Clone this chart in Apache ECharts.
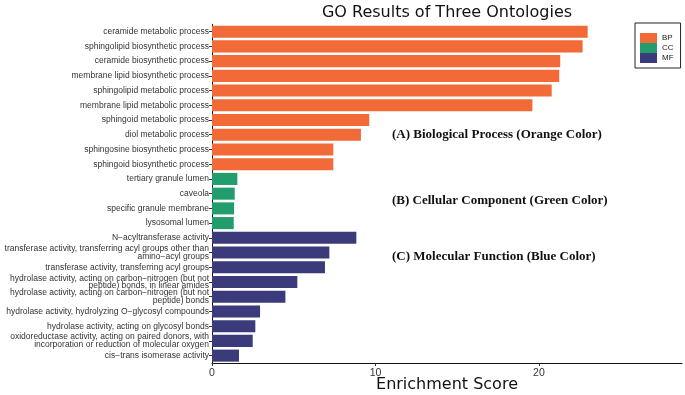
<!DOCTYPE html>
<html>
<head>
<meta charset="utf-8">
<style>
  html, body { margin: 0; padding: 0; background: #fff; }
  #chart { width: 685px; height: 395px; }
</style>
<script src="https://cdn.jsdelivr.net/npm/echarts@6/dist/echarts.min.js"></script>
</head>
<body>
<div id="chart"></div>
<script>
// GO terms, top to bottom as drawn
const terms = [
  'ceramide metabolic process',
  'sphingolipid biosynthetic process',
  'ceramide biosynthetic process',
  'membrane lipid biosynthetic process',
  'sphingolipid metabolic process',
  'membrane lipid metabolic process',
  'sphingoid metabolic process',
  'diol metabolic process',
  'sphingosine biosynthetic process',
  'sphingoid biosynthetic process',
  'tertiary granule lumen',
  'caveola',
  'specific granule membrane',
  'lysosomal lumen',
  'N\u2212acyltransferase activity',
  'transferase activity, transferring acyl groups other than\namino\u2212acyl groups',
  'transferase activity, transferring acyl groups',
  'hydrolase activity, acting on carbon\u2212nitrogen (but not\npeptide) bonds, in linear amides',
  'hydrolase activity, acting on carbon\u2212nitrogen (but not\npeptide) bonds',
  'hydrolase activity, hydrolyzing O\u2212glycosyl compounds',
  'hydrolase activity, acting on glycosyl bonds',
  'oxidoreductase activity, acting on paired donors, with\nincorporation or reduction of molecular oxygen',
  'cis\u2212trans isomerase activity'
];

const scores = [
  22.98, 22.67, 21.3, 21.24, 20.78, 19.6, 9.62, 9.11, 7.42, 7.42,
  1.55, 1.39, 1.35, 1.33,
  8.83, 7.18, 6.91, 5.22, 4.49, 2.94, 2.65, 2.49, 1.65
];

const ontology = [
  'BP', 'BP', 'BP', 'BP', 'BP', 'BP', 'BP', 'BP', 'BP', 'BP',
  'CC', 'CC', 'CC', 'CC',
  'MF', 'MF', 'MF', 'MF', 'MF', 'MF', 'MF', 'MF', 'MF'
];

const groups = ['BP', 'CC', 'MF'];
const groupColors = { BP: '#F26A38', CC: '#239C6E', MF: '#3B3A7A' };

const notes = [
  '(A) Biological Process (Orange Color)',
  '(B) Cellular Component (Green Color)',
  '(C) Molecular Function (Blue Color)'
];

const chart = echarts.init(document.getElementById('chart'));

// one series per ontology so the legend gets its three keys
const series = groups.map((g) => ({
  name: g,
  type: 'bar',
  stack: 'go',
  barCategoryGap: '18%',
  itemStyle: { color: groupColors[g] },
  data: scores.map((v, i) => (ontology[i] === g ? v : '-'))
}));

const noteY = [135, 201, 257];

const option = {
  animation: false,
  backgroundColor: '#fff',
  title: {
    text: 'GO Results of Three Ontologies',
    left: 447,
    top: 5,
    padding: 0,
    textAlign: 'center',
    textStyle: { fontFamily: 'DejaVu Sans', fontSize: 16, fontWeight: 'normal', color: '#111' }
  },
  legend: {
    data: groups,
    orient: 'vertical',
    left: 635,
    top: 23,
    padding: [10, 7, 5, 5],
    itemGap: 0,
    itemWidth: 17,
    itemHeight: 10,
    icon: 'rect',
    borderColor: '#222',
    borderWidth: 1,
    textStyle: { fontFamily: 'Liberation Sans', fontSize: 8, color: '#222' }
  },
  grid: { left: 212, right: 3, top: 24.3, bottom: 32, outerBoundsMode: 'none' },
  xAxis: {
    type: 'value',
    min: 0,
    max: 28.75,
    interval: 10,
    name: 'Enrichment Score',
    nameLocation: 'middle',
    nameGap: 14,
    nameMoveOverlap: false,
    nameTextStyle: { fontFamily: 'DejaVu Sans', fontSize: 16, color: '#111' },
    axisLine: { show: true, lineStyle: { color: '#111', width: 1 } },
    axisTick: { show: true, length: 3, lineStyle: { color: '#333' }, customValues: [0, 10, 20] },
    axisLabel: {
      fontFamily: 'Liberation Sans', fontSize: 10.5, color: '#333', margin: 5,
      customValues: [0, 10, 20]
    },
    splitLine: { show: false }
  },
  yAxis: {
    type: 'category',
    inverse: true,
    data: terms,
    axisLine: { show: true, lineStyle: { color: '#111', width: 1 } },
    axisTick: { show: true, length: 3, alignWithLabel: true, lineStyle: { color: '#333' } },
    axisLabel: {
      fontFamily: 'Liberation Sans', fontSize: 8.5, color: '#333', margin: 3,
      lineHeight: 7.6, interval: 0
    },
    splitLine: { show: false }
  },
  graphic: notes.map((t, i) => ({
    type: 'text',
    x: 392,
    y: noteY[i],
    style: {
      text: t,
      font: 'bold 13px "Liberation Serif"',
      fill: '#111',
      verticalAlign: 'middle'
    }
  })),
  series: series
};

chart.setOption(option);
</script>
</body>
</html>
